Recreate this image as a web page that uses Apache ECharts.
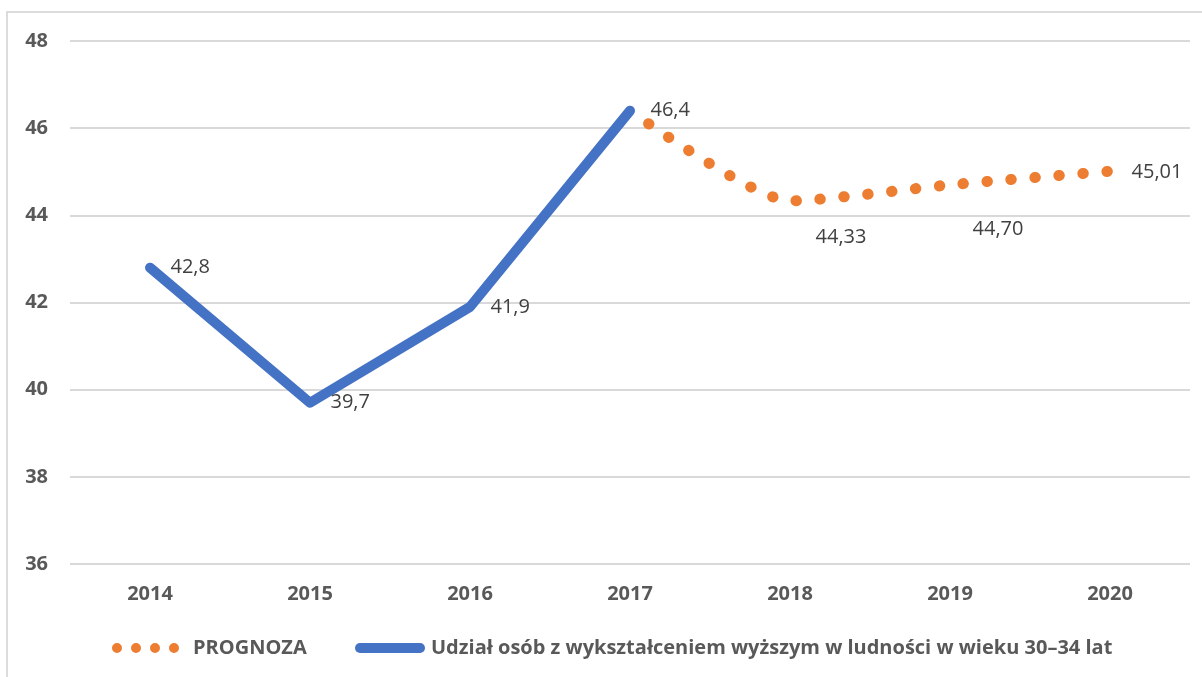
<!DOCTYPE html>
<html>
<head>
<meta charset="utf-8">
<script src="https://cdn.jsdelivr.net/npm/echarts@6/dist/echarts.min.js"></script>
<style>
  html, body { margin: 0; padding: 0; background: #fff; }
  #frame {
    position: absolute; left: 6px; top: 11px; width: 1300px; height: 800px;
    border-top: 2px solid #dcdcdc; border-left: 2px solid #dcdcdc;
  }
  #chart { position: absolute; left: 0; top: 0; width: 1202px; height: 677px; }
</style>
</head>
<body>
<div id="frame"></div>
<div id="chart"></div>
<script>
// dane z wykresu
const years = ["2014", "2015", "2016", "2017", "2018", "2019", "2020"];
const udzial = [42.8, 39.7, 41.9, 46.4, null, null, null];
const prognoza = [null, null, null, 46.4, 44.33, 44.70, 45.01];
const prognozaLabels = ["", "", "", "", "44,33", "44,70", "45,01"];
const yTicks = [36, 38, 40, 42, 44, 46, 48];

const kolor = {
  udzial: "#4472C4",
  prognoza: "#ED7D31",
  grid: "#d9d9d9",
  axisText: "#595959",
  label: "#404040",
};

const FONT = "Open Sans";

// przesuniecia etykiet prognozy (tak jak w oryginale)
const prognozaOffsets = {
  4: [51, 36],
  5: [48, 44],
  6: [47, 1],
};

const chart = echarts.init(document.getElementById("chart"));

const prognozaData = prognoza.map((v, i) => {
  const off = prognozaOffsets[i];
  return {
    value: v,
    label: off
      ? { show: true, position: "inside", offset: off, formatter: prognozaLabels[i] }
      : { show: false },
  };
});

const dots = "path://M0,5a5,5 0 1,0 10,0a5,5 0 1,0 -10,0Z" +
  "M19,5a5,5 0 1,0 10,0a5,5 0 1,0 -10,0Z" +
  "M38,5a5,5 0 1,0 10,0a5,5 0 1,0 -10,0Z" +
  "M57,5a5,5 0 1,0 10,0a5,5 0 1,0 -10,0Z";
const bar = "path://M5,0L65,0A5,5 0 0,1 65,10L5,10A5,5 0 0,1 5,0Z";

const legendText = {
  color: kolor.axisText, fontWeight: "bold", fontSize: 20,
  fontFamily: FONT, lineHeight: 24,
};

chart.setOption({
  backgroundColor: "transparent",
  animation: false,
  textStyle: { fontFamily: FONT },
  grid: { left: 70, right: 12, top: 41, bottom: 113 },
  legend: [
    {
      left: 112,
      top: 636,
      padding: 0,
      data: ["PROGNOZA"],
      icon: dots,
      itemWidth: 67,
      itemHeight: 10,
      textStyle: { ...legendText, padding: [0, 0, 0, 9] },
    },
    {
      left: 355,
      top: 636,
      padding: 0,
      data: ["Udział osób z wykształceniem wyższym w ludności w wieku 30–34 lat"],
      icon: bar,
      itemWidth: 70,
      itemHeight: 10,
      textStyle: { ...legendText, padding: [0, 0, 0, 1] },
    },
  ],
  xAxis: {
    type: "category",
    data: years,
    boundaryGap: true,
    axisLine: { show: false },
    axisTick: { show: false },
    axisLabel: {
      color: kolor.axisText, fontWeight: "bold", fontSize: 20,
      fontFamily: FONT, margin: 20,
    },
  },
  yAxis: {
    type: "value",
    min: yTicks[0],
    max: yTicks[yTicks.length - 1],
    interval: 2,
    axisLine: { show: false },
    axisTick: { show: false },
    axisLabel: {
      color: kolor.axisText, fontWeight: "bold", fontSize: 20,
      fontFamily: FONT, margin: 22,
    },
    splitLine: { lineStyle: { color: kolor.grid, width: 2 } },
  },
  series: [
    {
      name: "PROGNOZA",
      type: "line",
      smooth: 0.2,
      data: prognozaData,
      symbol: "circle",
      symbolSize: 0.5,
      itemStyle: { color: kolor.prognoza },
      lineStyle: {
        color: kolor.prognoza,
        width: 11,
        type: [0.5, 23.5],
        dashOffset: 1.2,
        cap: "round",
      },
      label: {
        color: kolor.label, fontSize: 20, fontFamily: FONT,
      },
    },
    {
      name: "Udział osób z wykształceniem wyższym w ludności w wieku 30–34 lat",
      type: "line",
      data: udzial,
      symbol: "circle",
      symbolSize: 1,
      itemStyle: { color: kolor.udzial },
      lineStyle: { color: kolor.udzial, width: 10, cap: "round", join: "round" },
      label: {
        show: true,
        position: "right",
        distance: 20,
        color: kolor.label,
        fontSize: 20,
        fontFamily: FONT,
        formatter: (p) => String(p.value).replace(".", ","),
      },
    },
  ],
});
</script>
</body>
</html>
